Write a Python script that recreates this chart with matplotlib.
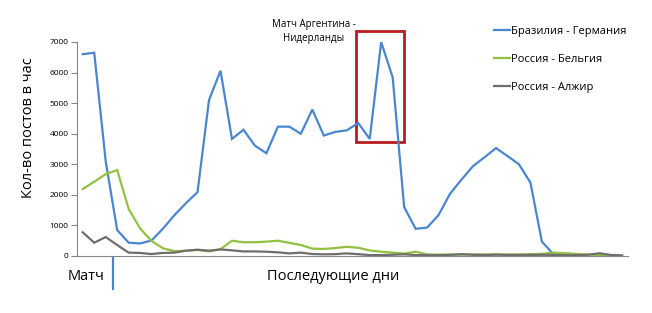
import numpy as np
import matplotlib
matplotlib.use("Agg")
import matplotlib.pyplot as plt
from matplotlib.patches import Rectangle
from matplotlib.lines import Line2D

plt.rcParams["font.family"] = ["Open Sans", "DejaVu Sans"]

# посты в час, по часам после матча
brazil_germany = [6600, 6650, 3100, 850, 435, 410, 510, 900, 1340, 1730,
                  2090, 5100, 6060, 3830, 4130, 3610, 3360, 4230, 4230, 4000,
                  4790, 3940, 4060, 4110, 4350, 3830, 7000, 5840, 1600, 890,
                  930, 1340, 2040, 2500, 2940, 3230, 3530, 3270, 3000, 2400,
                  470, 60]
russia_belgium = [2190, 2430, 2680, 2810, 1540, 900, 490, 250, 160, 170,
                  200, 150, 220, 500, 450, 450, 470, 500, 430, 360,
                  240, 230, 260, 300, 270, 180, 140, 110, 80, 140,
                  50, 45, 50, 45, 50, 55, 50, 50, 55, 60,
                  70, 110, 90, 70, 50, 30, 20]
russia_algeria = [775, 435, 620, 360, 110, 100, 65, 100, 110, 175,
                  205, 175, 215, 185, 150, 150, 140, 120, 85, 110,
                  65, 55, 60, 85, 60, 30, 30, 40, 55, 30,
                  30, 25, 35, 60, 40, 30, 45, 35, 30, 35,
                  40, 35, 30, 25, 40, 90, 35, 20]
series_names = ["Бразилия - Германия", "Россия - Бельгия", "Россия - Алжир"]
series_colors = ["#4A86D0", "#92C03F", "#6E6E6E"]
yticks = [0, 1000, 2000, 3000, 4000, 5000, 6000, 7000]

fig = plt.figure(figsize=(6.52, 3.13), dpi=100)
ax = fig.add_axes([77 / 652, 1 - 256 / 313, 551 / 652, 214 / 313])

lines = []
for vals, name, col in zip([brazil_germany, russia_belgium, russia_algeria],
                           series_names, series_colors):
    ln, = ax.plot(np.arange(len(vals)), vals, color=col, linewidth=1.6,
                  label=name, solid_joinstyle="miter")
    lines.append(ln)

ax.set_xlim(-0.5, 47.5)
ax.set_ylim(0, 7000)
ax.set_yticks(yticks)
ax.set_yticklabels([str(t) for t in yticks], fontsize=6)
ax.set_xticks([])
ax.tick_params(axis="y", length=4, width=0.8, color="#868686", pad=2)
for s in ["top", "right"]:
    ax.spines[s].set_visible(False)
ax.spines["left"].set_color("#868686")
ax.spines["bottom"].set_color("#868686")
ax.spines["left"].set_linewidth(0.8)
ax.spines["bottom"].set_linewidth(0.8)

ax.set_ylabel("Кол-во постов в час", fontsize=10.5)
ax.yaxis.set_label_coords(-0.074, 0.60)

# рамка вокруг матча Аргентина - Нидерланды
ax.add_patch(Rectangle((23.8, 3740), 4.15, 3620, fill=False,
                       edgecolor="#B81C1C", linewidth=2, clip_on=False))
fig.text(314 / 652, 1 - 24 / 313, "Матч Аргентина -", ha="center", va="center", fontsize=7)
fig.text(314 / 652, 1 - 38 / 313, "Нидерланды", ha="center", va="center", fontsize=7)

fig.legend(handles=lines, loc="upper left", bbox_to_anchor=(488 / 652, 1 - 20 / 313),
           frameon=False, fontsize=8, handlelength=1.5, handletextpad=0.1,
           labelspacing=1.55, borderpad=0)

fig.text(86 / 652, 1 - 276 / 313, "Матч", ha="center", va="center", fontsize=10.5)
fig.text(333 / 652, 1 - 276 / 313, "Последующие дни", ha="center", va="center", fontsize=10.5)
fig.add_artist(Line2D([112.7 / 652, 112.7 / 652], [1 - 258 / 313, 1 - 289 / 313],
                      color="#4A86D0", linewidth=1.6))

plt.savefig("out.png", dpi=100)
